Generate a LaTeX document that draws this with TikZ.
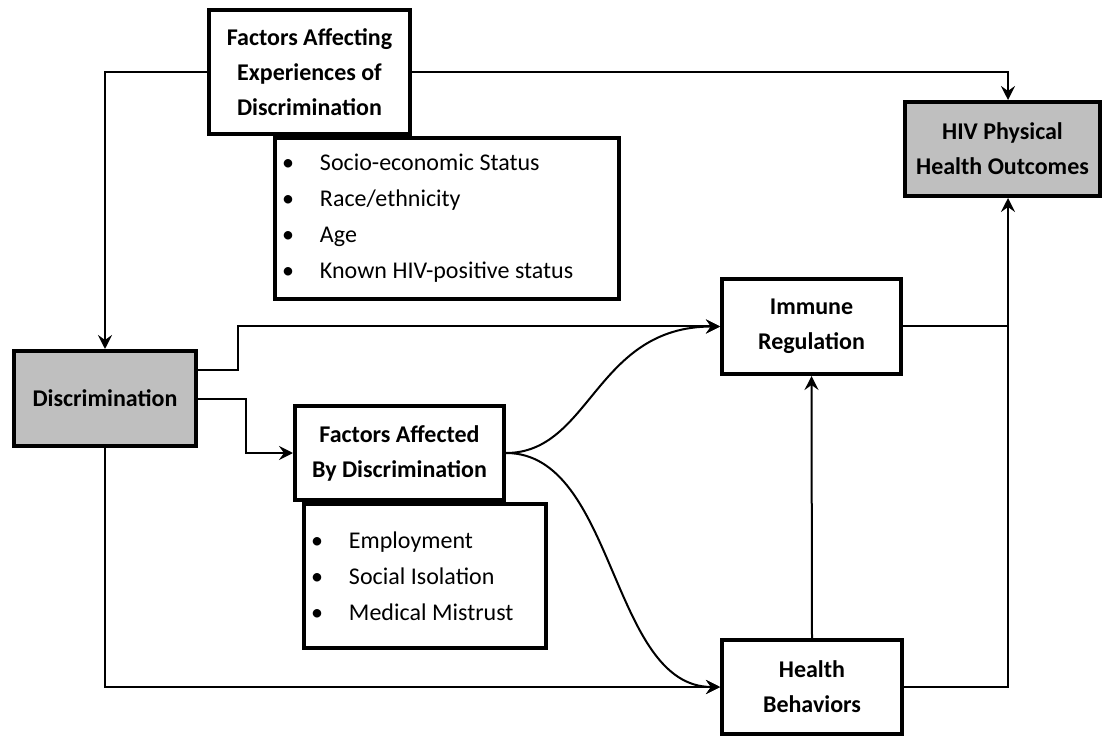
\documentclass[tikz,border=0pt]{standalone}
\usepackage{fontspec}
\setmainfont{Carlito}
\usetikzlibrary{arrows.meta,calc}
\newcommand{\bitem}[1]{\makebox[38pt][l]{\textbullet}{\spaceskip=5.6pt\relax #1}}
\tikzset{
  box/.style={draw, rectangle, line width=4pt, align=center, font=\bfseries\fontsize{24}{35}\selectfont, fill=white, inner sep=2pt},
  gbox/.style={box, fill=black!25},
  lbox/.style={draw, rectangle, line width=4pt, align=left, font=\fontsize{24}{36}\selectfont, fill=white, inner xsep=7pt, inner ysep=0pt},
  arr/.style={-{Stealth[length=14pt,width=14pt,inset=5pt]}, line width=2pt},
  ln/.style={line width=2pt},
}
\begin{document}
\begin{tikzpicture}[x=1pt,y=-1pt]
\useasboundingbox (0,0) rectangle (1104,738);
% factor lists
\node[lbox, text width=330pt, minimum height=161pt] (soc) at (447,218.5) {\bitem{Socio-economic Status}\\\bitem{Race/ethnicity}\\\bitem{Age}\\\bitem{Known HIV-positive status}};
\node[lbox, text width=228pt, minimum height=144pt] (eff) at (425,576) {\bitem{Employment}\\\bitem{Social Isolation}\\\bitem{Medical Mistrust}};
% main boxes
\node[box, minimum width=201pt, minimum height=124pt] (fae) at (309.5,72) {Factors Affecting\\Experiences of\\Discrimination};
\node[box, minimum width=209pt, minimum height=94pt] (aff) at (399.5,453) {Factors Affected\\By Discrimination};
\node[gbox, minimum width=182pt, minimum height=95pt] (disc) at (105,398.5) {Discrimination};
\node[gbox, minimum width=195pt, minimum height=94pt] (hiv) at (1002.5,149) {HIV Physical\\Health Outcomes};
\node[box, minimum width=179pt, minimum height=95pt] (imm) at (811.5,326.5) {Immune\\Regulation};
\node[box, minimum width=180pt, minimum height=94pt] (hb) at (812,687) {Health\\Behaviors};
\coordinate (bus) at (1008,0);
% connectors
\draw[arr] (fae.west) -| (disc.north);
\draw[arr] (fae.east) -| (bus |- hiv.north);
\draw[ln] (imm.east) -- (bus |- imm.east);
\draw[arr] (hb.east) -| (bus |- hiv.south);
\draw[arr] ([yshift=29pt]disc.east) -- ++(40,0) |- (imm.west);
\draw[arr] (disc.east) -- ++(48,0) |- (aff.west);
\draw[arr] (disc.south) |- (hb.west);
\draw[arr] (aff.east) .. controls +(85,0) and +(-125,0) .. (imm.west);
\draw[arr] (aff.east) .. controls +(110,0) and +(-110,0) .. (hb.west);
\draw[arr] (hb.north) -- (imm.south);
\end{tikzpicture}
\end{document}
